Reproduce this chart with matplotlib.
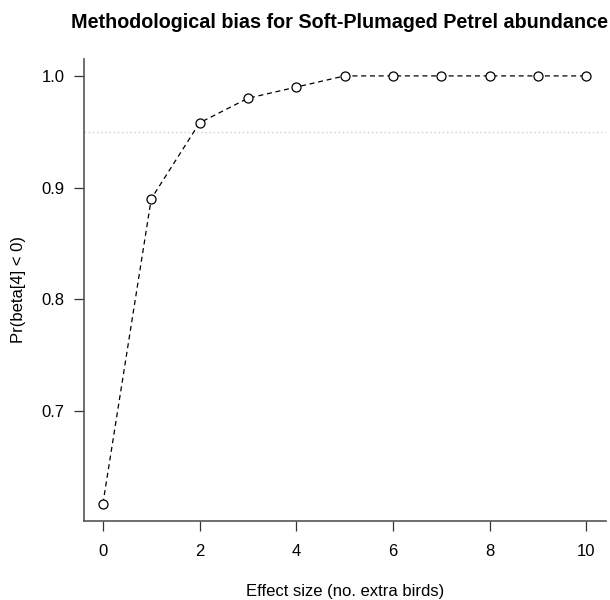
import matplotlib
matplotlib.use('Agg')
import matplotlib.pyplot as plt

# Data
effect_size = [0, 1, 2, 3, 4, 5, 6, 7, 8, 9, 10]
prob_negative = [0.617, 0.890, 0.958, 0.980, 0.990, 1.0, 1.0, 1.0, 1.0, 1.0, 1.0]
threshold = 0.95

plt.rcParams['font.family'] = ['Liberation Sans', 'DejaVu Sans']

fig = plt.figure(figsize=(6.1, 6.0), dpi=100)
ax = fig.add_axes([0.137, 0.132, 0.856, 0.770])

# Dotted reference line
ax.axhline(threshold, color='#cccccc', linestyle=(0, (1, 2)), linewidth=1)

# Dashed line with open circles
ax.plot(effect_size, prob_negative, color='black', linestyle=(0, (4, 3)),
        linewidth=0.9, marker='o', markersize=6.5, markerfacecolor='white',
        markeredgecolor='black', markeredgewidth=0.9)

# R-style axis ranges (4% padding)
ax.set_xlim(-0.4, 10.4)
lo, hi = min(prob_negative), max(prob_negative)
pad = (hi - lo) * 0.04
ax.set_ylim(lo - pad, hi + pad)

ax.set_xticks([0, 2, 4, 6, 8, 10])
ax.set_yticks([0.7, 0.8, 0.9, 1.0])
ax.set_yticklabels(['0.7', '0.8', '0.9', '1.0'])

for side in ['top', 'right']:
    ax.spines[side].set_visible(False)
for side in ['left', 'bottom']:
    ax.spines[side].set_color('#555555')
    ax.spines[side].set_linewidth(1.2)

ax.tick_params(axis='both', direction='out', length=7, width=0.9,
               color='#333333', labelsize=12)
ax.tick_params(axis='x', pad=10)
ax.tick_params(axis='y', pad=6.5)

ax.set_xlabel('Effect size (no. extra birds)', fontsize=12, labelpad=18)
ax.set_ylabel('Pr(beta[4] < 0)', fontsize=12, labelpad=11.5)
ax.set_title('Methodological bias for Soft-Plumaged Petrel abundance',
             fontsize=14.2, fontweight='bold', pad=22.5, x=0.49)

fig.savefig('out.png', dpi=100)
